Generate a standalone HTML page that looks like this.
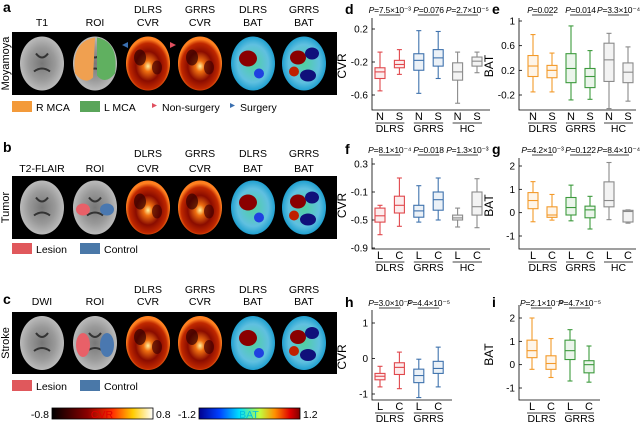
<!DOCTYPE html>
<html><head><meta charset="utf-8">
<style>
html,body{margin:0;padding:0;background:#fff;}
svg{display:block;font-family:"Liberation Sans",Arial,sans-serif;}
</style></head>
<body>
<svg id="fig" width="640" height="424" viewBox="0 0 640 424" xmlns="http://www.w3.org/2000/svg">
<defs>
 <radialGradient id="gT1" cx="50%" cy="50%" r="50%"><stop offset="0" stop-color="#777"/><stop offset="0.6" stop-color="#999"/><stop offset="1" stop-color="#bbb"/></radialGradient>
 <radialGradient id="gCVR" cx="50%" cy="55%" r="50%"><stop offset="0" stop-color="#fff2a0"/><stop offset="0.2" stop-color="#f07010"/><stop offset="0.55" stop-color="#8a0c00"/><stop offset="0.85" stop-color="#c02800"/><stop offset="1" stop-color="#ff8020"/></radialGradient>
 <radialGradient id="gBAT" cx="50%" cy="50%" r="50%"><stop offset="0" stop-color="#50d0a0"/><stop offset="0.7" stop-color="#60c0e0"/><stop offset="1" stop-color="#20a0d0"/></radialGradient>
 <linearGradient id="cbCVR" x1="0" x2="1"><stop offset="0" stop-color="#000"/><stop offset="0.35" stop-color="#8a0000"/><stop offset="0.6" stop-color="#ff3000"/><stop offset="0.8" stop-color="#ffcc00"/><stop offset="1" stop-color="#ffffff"/></linearGradient>
 <linearGradient id="cbBAT" x1="0" x2="1"><stop offset="0" stop-color="#00008f"/><stop offset="0.2" stop-color="#0040ff"/><stop offset="0.4" stop-color="#00e0ff"/><stop offset="0.6" stop-color="#c0ff40"/><stop offset="0.75" stop-color="#ff9000"/><stop offset="0.9" stop-color="#e00000"/><stop offset="1" stop-color="#800000"/></linearGradient>
</defs>
<g id="left"></g>
<g id="charts"></g>
</svg>
<script>
const NS="http://www.w3.org/2000/svg";
function mk(parent,tag,attrs,text){const e=document.createElementNS(NS,tag);for(const k in attrs)e.setAttribute(k,attrs[k]);if(text!==undefined)e.textContent=text;parent.appendChild(e);return e;}
const L=document.getElementById('left');

const brainX=[42,95,148,200,253,304];
const rows=[
 {lab:'a',ly:12,hy:[13,26],top:32,bot:95,side:'Moyamoya',heads:['T1','ROI','DLRS\nCVR','GRRS\nCVR','DLRS\nBAT','GRRS\nBAT'],leg:[['#f39a3a','R MCA'],['#5aa55a','L MCA']],legy:107,tri:true,roi:['#f0a050','#60b060']},
 {lab:'b',ly:152,hy:[157,172],top:176,bot:239,side:'Tumor',heads:['T2-FLAIR','ROI','DLRS\nCVR','GRRS\nCVR','DLRS\nBAT','GRRS\nBAT'],leg:[['#e0585c','Lesion'],['#4a78a8','Control']],legy:249,roi:['#e86068','#4a78b0']},
 {lab:'c',ly:304,hy:[293,305],top:312,bot:374,side:'Stroke',heads:['DWI','ROI','DLRS\nCVR','GRRS\nCVR','DLRS\nBAT','GRRS\nBAT'],leg:[['#e0585c','Lesion'],['#4a78a8','Control']],legy:386,roi:['#e86068','#4a78b0']}
];
rows.forEach((r,ri)=>{
 const g=mk(L,'g',{});
 
 
 const pl=mk(g,'text',{x:3,y:r.ly,'font-size':14,'font-weight':'bold'},r.lab);
 
 
 r.heads.forEach((h,i)=>{
  const parts=h.split('\n');
  parts.forEach((p,j)=>{
   const y=parts.length===2?r.hy[j]:r.hy[1];
   const t=mk(g,'text',{x:brainX[i],y:y,'font-size':10.5,'text-anchor':'middle'},p);
   
   
  });
 });
 const strip=mk(g,'rect',{x:12,y:r.top,width:325,height:r.bot-r.top,fill:'#000'});
 
 
 const cy=(r.top+r.bot)/2;
 const st=mk(g,'text',{x:0,y:0,'font-size':11,'text-anchor':'middle',transform:`translate(9,${cy}) rotate(-90)`},r.side);
 
 
 brainX.forEach((x,i)=>{
  const bg=mk(g,'g',{});
  
  
  const fill=i<2?'url(#gT1)':(i<4?'url(#gCVR)':'url(#gBAT)');
  mk(bg,'ellipse',{cx:x,cy:cy,rx:22,ry:27,fill:fill});
  if(i<2){mk(bg,'path',{d:`M${x-6} ${cy-10} q6 8 12 0 M${x-8} ${cy+8} q8 -6 16 0`,stroke:'#333',fill:'none','stroke-width':2});}
  if(i===1){
   if(ri===0){mk(bg,'path',{d:`M${x} ${cy-26} Q${x-24} ${cy-22} ${x-20} ${cy+10} Q${x-10} ${cy+22} ${x-2} ${cy+14} Z`,fill:r.roi[0]});
     mk(bg,'path',{d:`M${x+2} ${cy-26} Q${x+24} ${cy-22} ${x+20} ${cy+10} Q${x+10} ${cy+22} ${x+2} ${cy+12} Z`,fill:r.roi[1]});}
   else{mk(bg,'ellipse',{cx:x-12,cy:cy+2,rx:7,ry:ri===2?12:6,fill:r.roi[0]});mk(bg,'ellipse',{cx:x+12,cy:cy+2,rx:7,ry:ri===2?12:6,fill:r.roi[1]});}
  }
  if(i===2||i===3){mk(bg,'ellipse',{cx:x-8,cy:cy-6,rx:6,ry:8,fill:'#300',opacity:0.7});mk(bg,'ellipse',{cx:x+9,cy:cy+4,rx:5,ry:7,fill:'#400',opacity:0.7});}
  if(i===4){mk(bg,'ellipse',{cx:x-5,cy:cy-5,rx:9,ry:8,fill:'#8a0000'});mk(bg,'ellipse',{cx:x+6,cy:cy+10,rx:5,ry:5,fill:'#2040e0'});}
  if(i===5){mk(bg,'ellipse',{cx:x-6,cy:cy-6,rx:8,ry:7,fill:'#8a0000'});mk(bg,'ellipse',{cx:x+8,cy:cy-10,rx:7,ry:6,fill:'#10107a'});mk(bg,'ellipse',{cx:x+4,cy:cy+12,rx:8,ry:6,fill:'#10107a'});mk(bg,'ellipse',{cx:x-10,cy:cy+8,rx:5,ry:5,fill:'#c02000'});}
 });
 if(r.tri){
  mk(g,'path',{d:'M122 45 l6 -3 l0 6 z',fill:'#3a6fb0'});
  mk(g,'path',{d:'M176 45 l-6 -3 l0 6 z',fill:'#e05060'});
 }
 r.leg.forEach((lg,i)=>{
  const x=12+i*68;
  const sw=mk(g,'rect',{x:x,y:r.legy-6,width:20,height:11,fill:lg[0]});
  
  
  const t=mk(g,'text',{x:x+24,y:r.legy+4,'font-size':10.5},lg[1]);
  
  
 });
 if(r.tri){
  mk(g,'path',{d:`M152 ${r.legy-4} l5 2.5 l-5 2.5 z`,fill:'#e05060'});
  const t1=mk(g,'text',{x:162,y:r.legy+4,'font-size':10.5},'Non-surgery');
  
  
  mk(g,'path',{d:`M230 ${r.legy-4} l5 2.5 l-5 2.5 z`,fill:'#3a6fb0'});
  const t2=mk(g,'text',{x:240,y:r.legy+4,'font-size':10.5},'Surgery');
  
  
 }
});
[['cbCVR',52,'-0.8','0.8','CVR','#e00000'],['cbBAT',199,'-1.2','1.2','BAT','#00c0e0']].forEach(c=>{
 const g=mk(L,'g',{});
 
 
 mk(g,'rect',{x:c[1],y:408,width:101,height:11,fill:`url(#${c[0]})`,stroke:'#000','stroke-width':0.8});
 mk(g,'text',{x:c[1]-3,y:418,'font-size':10.5,'text-anchor':'end'},c[2]);
 mk(g,'text',{x:c[1]+104,y:418,'font-size':10.5},c[3]);
 mk(g,'text',{x:c[1]+50,y:418,'font-size':10.5,'text-anchor':'middle',fill:c[5]},c[4]);
});

// ---------- chart data ----------
const dCats=['N','S','N','S','N','S'];
const dGroups=['DLRS','GRRS','HC'];
const dBoxes=[[-0.55,-0.4,-0.32,-0.27,-0.08],[-0.35,-0.27,-0.23,-0.18,-0.05],[-0.58,-0.3,-0.18,-0.1,0.18],[-0.4,-0.25,-0.15,-0.05,0.17],[-0.7,-0.42,-0.32,-0.21,-0.08],[-0.33,-0.25,-0.19,-0.14,-0.08]];
const dTicks=[0.2,-0.2,-0.6];
const dP=['7.5×10⁻³','0.076','2.7×10⁻⁵'];
const eBoxes=[[-0.15,0.1,0.27,0.44,0.78],[-0.15,0.08,0.2,0.28,0.48],[-0.28,0.0,0.23,0.47,0.92],[-0.27,-0.08,0.1,0.23,0.52],[-0.42,0.02,0.37,0.64,0.8],[-0.3,0.0,0.17,0.32,0.58]];
const eTicks=[1,0.6,0.2,-0.2];
const eP=['0.022','0.014','3.3×10⁻⁴'];
const fCats=['L','C','L','C','L','C'];
const fBoxes=[[-0.71,-0.53,-0.44,-0.33,-0.29],[-0.59,-0.4,-0.29,-0.16,0.1],[-0.53,-0.46,-0.37,-0.29,-0.01],[-0.5,-0.36,-0.21,-0.1,0.1],[-0.6,-0.5,-0.47,-0.43,-0.33],[-0.61,-0.43,-0.31,-0.1,0.09]];
const fTicks=[0.3,-0.1,-0.5,-0.9];
const fP=['8.1×10⁻⁴','0.018','1.3×10⁻³'];
const gBoxes=[[-0.39,0.17,0.52,0.86,1.33],[-0.32,-0.2,-0.1,0.25,0.78],[-0.35,-0.1,0.22,0.65,1.18],[-0.7,-0.22,0.12,0.28,0.7],[-0.3,0.25,0.52,1.32,2.15],[-0.45,-0.4,0.05,0.1,0.12]];
const gTicks=[2,1,0,-1];
const gP=['4.2×10⁻³','0.122','8.4×10⁻⁴'];
const hCats=['L','C','L','C'];
const hGroups=['DLRS','GRRS'];
const hBoxes=[[-0.8,-0.6,-0.5,-0.42,-0.22],[-0.85,-0.45,-0.25,-0.12,0.18],[-1.1,-0.68,-0.48,-0.3,-0.02],[-0.8,-0.42,-0.28,-0.08,0.32]];
const hTicks=[1,0,-1];
const hP=['3.0×10⁻⁶','4.4×10⁻⁵'];
const iBoxes=[[-0.2,0.3,0.6,1.05,2.0],[-0.55,-0.2,0.05,0.38,1.12],[-0.7,0.22,0.6,1.05,1.5],[-0.75,-0.35,0,0.17,0.8]];
const iTicks=[2,1,0,-1];
const iP=['2.1×10⁻⁸','4.7×10⁻⁵'];

const C={red:'#e0474c',blue:'#3f72ad',orange:'#f39a2a',green:'#3d9a3d',gray:'#8a8a8a'};
const panels=[
 {id:'d',cats:dCats,groups:dGroups,boxes:dBoxes,ticks:dTicks,p:dP,ylab:'CVR',x0:372,x1:490,top:18,bot:110,v0:0.2,y0:29,v1:-0.6,y1:95,cx0:380,dx:19.4,cols:[C.red,C.red,C.blue,C.blue,C.gray,C.gray],py:13},
 {id:'e',cats:dCats,groups:dGroups,boxes:eBoxes,ticks:eTicks,p:eP,ylab:'BAT',x0:519,x1:636,top:18,bot:110,v0:1,y0:21,v1:-0.2,y1:95,cx0:533,dx:19,cols:[C.orange,C.orange,C.green,C.green,C.gray,C.gray],py:13},
 {id:'f',cats:fCats,groups:dGroups,boxes:fBoxes,ticks:fTicks,p:fP,ylab:'CVR',x0:372,x1:490,top:158,bot:249,v0:0.3,y0:164,v1:-0.9,y1:248,cx0:380,dx:19.4,cols:[C.red,C.red,C.blue,C.blue,C.gray,C.gray],py:153},
 {id:'g',cats:fCats,groups:dGroups,boxes:gBoxes,ticks:gTicks,p:gP,ylab:'BAT',x0:519,x1:636,top:158,bot:249,v0:2,y0:166,v1:-1,y1:236,cx0:533,dx:19,cols:[C.orange,C.orange,C.green,C.green,C.gray,C.gray],py:153},
 {id:'h',cats:hCats,groups:hGroups,boxes:hBoxes,ticks:hTicks,p:hP,ylab:'CVR',x0:372,x1:452,top:310,bot:400,v0:1,y0:323,v1:-1,y1:394,cx0:380,dx:19.4,cols:[C.red,C.red,C.blue,C.blue],py:306},
 {id:'i',cats:hCats,groups:hGroups,boxes:iBoxes,ticks:iTicks,p:iP,ylab:'BAT',x0:519,x1:600,top:305,bot:400,v0:2,y0:318,v1:-1,y1:388,cx0:532,dx:19,cols:[C.orange,C.orange,C.green,C.green],py:306}
];
const CH=document.getElementById('charts');
panels.forEach(P=>{
 const g=mk(CH,'g',{});
 
 
 const yS=v=>P.y0+(v-P.v0)*(P.y1-P.y0)/(P.v1-P.v0);
 const xS=i=>P.cx0+i*P.dx;
 const lab=mk(g,'text',{x:P.x0-27,y:P.py+1,'font-size':14,'font-weight':'bold'},P.id);
 
 
 mk(g,'path',{d:`M${P.x0} ${P.top} V${P.bot} H${P.x1}`,stroke:'#000',fill:'none','stroke-width':0.8});
 P.ticks.forEach(t=>{
  const y=yS(t);
  mk(g,'line',{x1:P.x0,x2:P.x0+3,y1:y,y2:y,stroke:'#000','stroke-width':0.8});
  const tl=mk(g,'text',{x:P.x0-4,y:y+3.5,'font-size':10,'text-anchor':'end'},String(t));
  
  
 });
 const yl=mk(g,'text',{x:0,y:0,'font-size':12,'text-anchor':'middle',transform:`translate(${P.x0-26},${(P.top+P.bot)/2+2}) rotate(-90)`},P.ylab);
 
 
 P.boxes.forEach((b,i)=>{
  const x=xS(i),c=P.cols[i],w=5;
  const bx=mk(g,'g',{stroke:c,'stroke-width':1.1,fill:'none'});
  
  
  mk(bx,'line',{x1:x,x2:x,y1:yS(b[0]),y2:yS(b[1])});
  mk(bx,'line',{x1:x,x2:x,y1:yS(b[3]),y2:yS(b[4])});
  mk(bx,'line',{x1:x-2.5,x2:x+2.5,y1:yS(b[0]),y2:yS(b[0])});
  mk(bx,'line',{x1:x-2.5,x2:x+2.5,y1:yS(b[4]),y2:yS(b[4])});
  mk(bx,'rect',{x:x-w,y:yS(b[3]),width:2*w,height:yS(b[1])-yS(b[3]),fill:c,'fill-opacity':0.1});
  mk(bx,'line',{x1:x-w,x2:x+w,y1:yS(b[2]),y2:yS(b[2])});
  const cl=mk(g,'text',{x:x,y:P.bot+10,'font-size':11,'text-anchor':'middle'},P.cats[i]);
  
  
 });
 P.groups.forEach((gn,k)=>{
  const xa=xS(2*k)-5,xb=xS(2*k+1)+5,xm=(xa+xb)/2;
  mk(g,'line',{x1:xa,x2:xb,y1:P.bot+13,y2:P.bot+13,stroke:'#000','stroke-width':0.7});
  const gl=mk(g,'text',{x:xm,y:P.bot+22,'font-size':10.5,'text-anchor':'middle'},gn);
  
  
  const pv=P.p[k];
  mk(g,'line',{x1:xS(2*k)-1,x2:xS(2*k+1)+1,y1:P.py+2,y2:P.py+2,stroke:'#000','stroke-width':0.8});
  const pt=mk(g,'text',{x:xm,y:P.py,'font-size':8.5,'text-anchor':'middle','letter-spacing':'-0.2'});
  
  
  mk(pt,'tspan',{'font-style':'italic'},'P');
  mk(pt,'tspan',{},'='+pv);
 });
});
</script>
</body></html>
